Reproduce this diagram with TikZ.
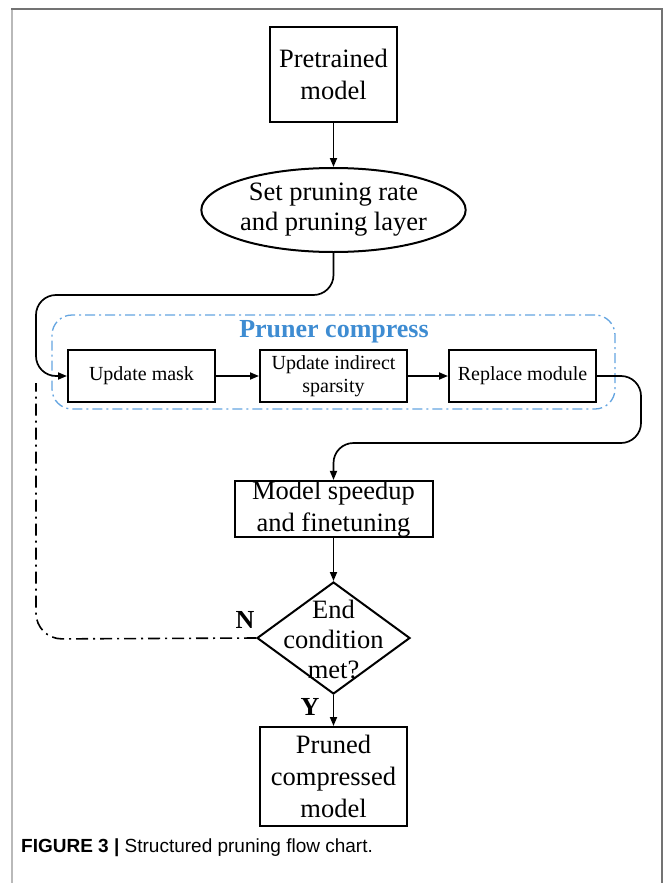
\documentclass[tikz,border=0pt]{standalone}
\usepackage{fontspec}
\setmainfont{Liberation Serif}
\newfontfamily\capfont{Liberation Sans}
\usetikzlibrary{shapes.geometric,arrows.meta}
\definecolor{prblue}{RGB}{62,140,210}
\definecolor{contblue}{RGB}{100,165,225}
\definecolor{frameg}{RGB}{115,115,115}
\definecolor{framel}{RGB}{185,185,185}
\begin{document}
\begin{tikzpicture}[x=1pt,y=-1pt,
  bigbox/.style={draw, line width=2pt, inner sep=0pt, align=center, font=\fontsize{26.5}{32}\selectfont},
  smallbox/.style={draw, line width=2pt, inner sep=0pt, align=center, minimum width=147pt, minimum height=52pt, font=\fontsize{20}{23}\selectfont},
  arr/.style={-{Triangle[length=9pt,width=7pt]}, line width=1.7pt},
  dashdotline/.style={line width=1.6pt, dash pattern=on 12pt off 5pt on 2pt off 5pt},
  lbl/.style={font=\fontsize{26}{31}\selectfont\bfseries, inner sep=0pt}]
\useasboundingbox (0,0) rectangle (663,883);
\fill[white] (0,0) rectangle (663,883);
% frame
\draw[framel, line width=2pt] (12,9) -- (12,883);
\draw[frameg, line width=2pt] (11,9) -- (662,9) -- (662,883);
% nodes
\node[bigbox, minimum width=127pt, minimum height=95pt] (pre) at (333.5,74.5) {Pretrained\\model};
\node[ellipse, draw, line width=2pt, inner sep=0pt, minimum width=241pt, minimum height=84pt, align=center, font=\fontsize{26.5}{30}\selectfont] (set) at (333.5,210) {Set pruning rate\\and pruning layer};
\node[draw=contblue, dash pattern=on 10pt off 4pt on 2pt off 4pt, line width=1.3pt, rounded corners=20pt, minimum width=563pt, minimum height=94pt, inner sep=0pt] (cont) at (333.5,362) {};
\node[text=prblue, font=\fontsize{26}{31}\selectfont\bfseries, inner sep=0pt] (title) at (334,332) {Pruner compress};
\node[smallbox] (um) at (141.5,376) {Update mask};
\node[smallbox] (ui) at (333.5,376) {Update indirect\\sparsity};
\node[smallbox] (rm) at (522.5,376) {Replace module};
\node[bigbox, minimum width=198pt, minimum height=56pt] (ms) at (333.5,509) {Model speedup\\and finetuning};
\node[diamond, draw, line width=2pt, inner sep=0pt, minimum width=153pt, minimum height=112pt] (dec) at (333.5,638) {};
\node[align=center, inner sep=0pt, font=\fontsize{26.5}{30}\selectfont] (dectext) at (333.5,639) {End\\condition\\met?};
\node[lbl] (nlab) at (245,620) {N};
\node[lbl] (ylab) at (310,707) {Y};
\node[bigbox, minimum width=147pt, minimum height=99pt] (pcm) at (333.5,776.5) {Pruned\\compressed\\model};
\node[anchor=west, inner sep=0pt, font=\capfont\fontsize{19}{22}\selectfont] (cap) at (21,848) {\textbf{FIGURE 3 |} Structured pruning flow chart.};
% connectors
\coordinate (c1) at (333.5,295);
\coordinate (c2) at (36,295);
\coordinate (c3) at (36,376);
\coordinate (c4) at (641,376);
\coordinate (c5) at (641,443);
\coordinate (c6) at (333.5,443);
\coordinate (c7) at (36,639);
\coordinate (dd) at (36,383);
\draw[arr] (pre) -- (set);
\draw[arr, rounded corners=20pt] (set.south) -- (c1) -- (c2) -- (c3) -- (um.west);
\draw[arr] (um) -- (ui);
\draw[arr] (ui) -- (rm);
\draw[arr, rounded corners=20pt] (rm.east) -- (c4) -- (c5) -- (c6) -- (ms.north);
\draw[arr] (ms) -- (dec.north);
\draw[arr] (dec.south) -- (pcm.north);
\draw[dashdotline, rounded corners=26pt] (dec.west) -- (c7) -- (dd);
\end{tikzpicture}
\end{document}
